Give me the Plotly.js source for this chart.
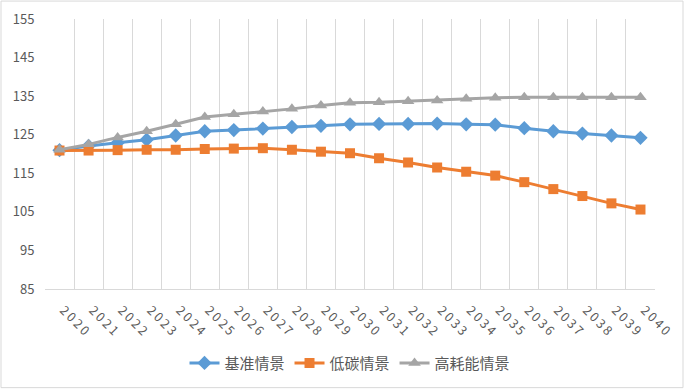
<!DOCTYPE html>
<html>
<head>
<meta charset="utf-8">
<script src="https://cdn.plot.ly/plotly-3.0.1.min.js"></script>
<style>
html,body{margin:0;padding:0;background:#fff;}
#chart{width:684px;height:390px;}
</style>
</head>
<body>
<div id="chart"></div>
<script>
const years = ["2020","2021","2022","2023","2024","2025","2026","2027","2028","2029","2030",
               "2031","2032","2033","2034","2035","2036","2037","2038","2039","2040"];
const yearLabels = years.map(y => y.split("").join("\u2009"));
const baseline = [121.0,122.1,122.9,123.7,124.8,125.9,126.2,126.6,127.0,127.3,127.7,
                  127.8,127.8,127.9,127.7,127.6,126.7,125.9,125.3,124.8,124.2];
const lowCarbon = [120.9,120.9,121.0,121.1,121.1,121.3,121.4,121.5,121.1,120.6,120.2,
                   118.9,117.8,116.5,115.4,114.4,112.7,110.9,109.1,107.2,105.6];
const highEnergy = [121.1,122.5,124.3,125.9,127.7,129.6,130.3,131.0,131.7,132.6,133.3,
                    133.4,133.7,133.9,134.3,134.6,134.7,134.7,134.7,134.7,134.7];
const seriesNames = ["基准情景","低碳情景","高耗能情景"];
const yTicks = [85,95,105,115,125,135,145,155];

const font = '"Noto Sans CJK SC", "DejaVu Sans", sans-serif';
const mk = (y, name, color, symbol, size) => ({
  x: years, y: y, name: name, type: "scatter", mode: "lines+markers",
  line: {color: color, width: 3},
  marker: {color: color, symbol: symbol, size: size, line: {width: 0}}
});
const data = [
  mk(baseline, seriesNames[0], "#5B9BD5", "diamond", 11),
  mk(lowCarbon, seriesNames[1], "#ED7D31", "square", 10),
  mk(highEnergy, seriesNames[2], "#A5A5A5", "triangle-up", 11)
];
const layout = {
  width: 684, height: 390,
  margin: {l: 45, r: 29, t: 19, b: 100},
  paper_bgcolor: "#fff", plot_bgcolor: "#fff",
  font: {family: font, color: "#595959", size: 12},
  showlegend: true,
  legend: {orientation: "h", x: 0.5, xanchor: "center", y: -0.27, yanchor: "middle",
           font: {size: 15, color: "#595959"}, traceorder: "normal", itemwidth: 30},
  xaxis: {
    type: "category", range: [-0.5, 20.5], tickson: "boundaries",
    tickvals: years, ticktext: yearLabels, tickangle: 45,
    showgrid: true, gridcolor: "#D9D9D9", gridwidth: 1,
    showline: true, linecolor: "#D9D9D9", linewidth: 1,
    ticks: "", zeroline: false,
    ticklabelstandoff: 8, ticklabelshift: 4,
    tickfont: {size: 12.5, color: "#595959"}
  },
  yaxis: {
    range: [85, 155], tickvals: yTicks, showgrid: false, zeroline: false,
    showline: false, ticks: "outside", ticklen: 7, tickcolor: "rgba(0,0,0,0)",
    tickfont: {size: 13, color: "#595959"}
  },
  shapes: [{type: "rect", xref: "paper", yref: "paper",
            x0: -44/610, x1: 1 + 28/610, y0: -99/271, y1: 1 + 18/271,
            line: {color: "#D9D9D9", width: 1}}]
};
Plotly.newPlot("chart", data, layout, {displayModeBar: false, staticPlot: true});
</script>
</body>
</html>
